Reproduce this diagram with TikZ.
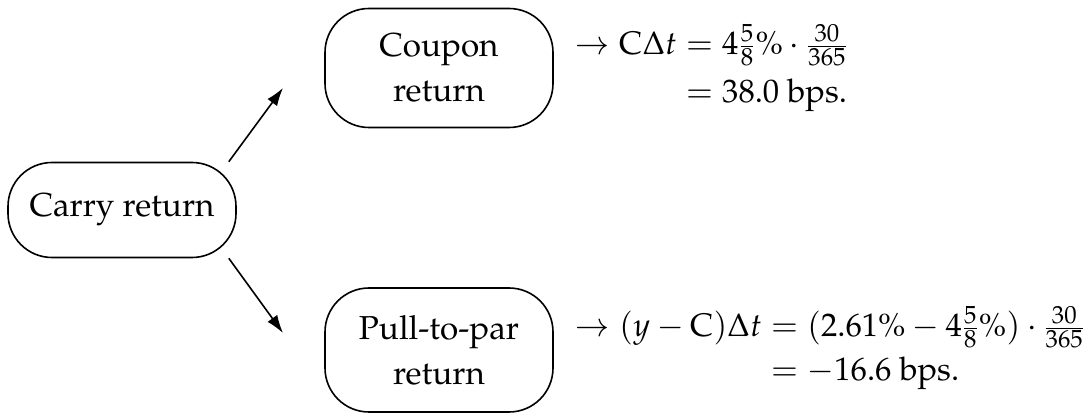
\documentclass[tikz,border=0pt]{standalone}
\usepackage[T1]{fontenc}
\usepackage{amsmath}
\usepackage{mathpazo}
\usetikzlibrary{arrows.meta}

\tikzset{
  retbox/.style={draw, line width=0.8pt, rounded corners=22pt, align=center,
    minimum width=114pt, font=\fontsize{16.6}{22.5}\selectfont},
  arr/.style={-{Latex[length=9pt,width=6pt]}, line width=0.8pt},
  eqn/.style={anchor=west, inner sep=0pt, font=\fontsize{16.3}{21}\selectfont}
}

\begin{document}
\begin{tikzpicture}[x=0.5pt, y=-0.5pt]
            \useasboundingbox (0,0) rectangle (1089,416);

            \node[retbox, minimum height=47.5pt] (carry) at (122,210) {Carry return};
            \node[retbox, minimum height=59.5pt] (coupon) at (439,68) {Coupon\\return};
            \node[retbox, minimum height=62pt] (pull) at (439,350) {Pull-to-par\\return};

            \coordinate (tipU) at (283,88);
            \coordinate (tipD) at (283,333);
            \draw[arr] (carry.north east) ++(-4pt,0) -- (tipU);
            \draw[arr] (carry.south east) ++(-4pt,0) -- (tipD);

            \node[eqn] (cpneq) at (575,70) {\setlength{\jot}{3pt}$\begin{aligned}
                \to \mathrm{C}\Delta t &= 4\tfrac{5}{8}\% \cdot \tfrac{30}{365}\\
                &= 38.0\text{ bps.}
              \end{aligned}$};
            \node[eqn] (pulleq) at (575,350) {\setlength{\jot}{1pt}$\begin{aligned}
                \to (y-\mathrm{C})\Delta t &= (2.61\% - 4\tfrac{5}{8}\%) \cdot \tfrac{30}{365}\\
                &= -16.6\text{ bps.}
              \end{aligned}$};
        \end{tikzpicture}
\end{document}
